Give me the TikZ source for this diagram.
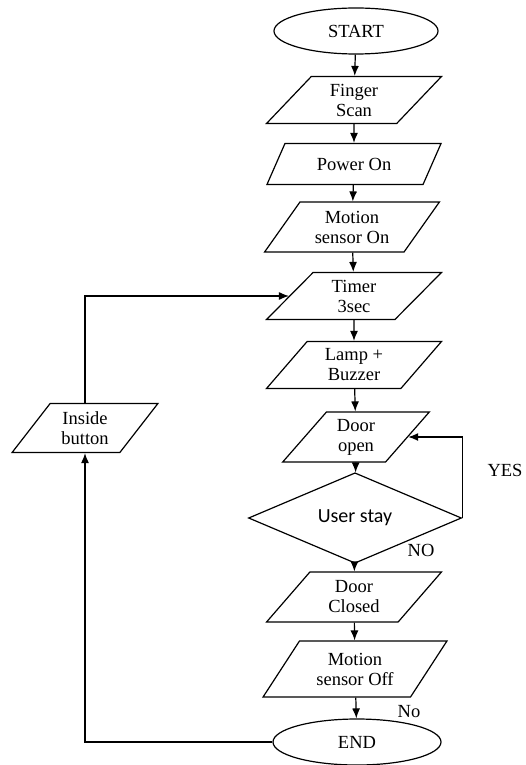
\documentclass[tikz,border=0pt]{standalone}
\usepackage{fontspec}
\setmainfont{Liberation Serif}
\newfontfamily\calibrifont{Carlito}
\usetikzlibrary{shapes.geometric}
\usetikzlibrary{arrows.meta}
\tikzset{iostyle/.style={trapezium,trapezium left angle=52,trapezium right angle=128,trapezium stretches=true,draw,line width=1.2pt,minimum width=175pt,minimum height=47pt,align=center,inner sep=0pt}}
\tikzset{termstyle/.style={ellipse,draw,line width=1.2pt,minimum width=164pt,minimum height=46pt,inner sep=0pt}}
\tikzset{decstyle/.style={diamond,draw,line width=1.2pt,minimum width=213pt,minimum height=73pt,inner sep=0pt}}
\tikzset{flowline/.style={line width=1.2pt,-{Latex[length=10pt,width=8pt]}}}

\begin{document}
\begin{tikzpicture}[x=1pt,y=-1pt,font=\fontsize{18.5}{20}\selectfont]
        \useasboundingbox (0,0) rectangle (525,765);

        \node[termstyle] (start) at (356,31) {START};
        \node[iostyle] (finger) at (354,100) {Finger\\Scan};
        \node[iostyle,minimum height=41pt] (power) at (354,164) {Power On};
        \node[iostyle,minimum height=50pt] (motionon) at (352,227) {Motion\\sensor On};
        \node[iostyle] (timer) at (354,296) {Timer\\3sec};
        \node[iostyle] (lamp) at (354,365) {Lamp +\\Buzzer};
        \node[iostyle,minimum width=148pt,minimum height=50pt] (dooropen) at (356,437) {Door\\open};
        \node[decstyle,font=\fontsize{20}{22}\calibrifont] (userstay) at (355,518) {User stay};
        \node[iostyle,minimum height=50pt] (doorclosed) at (354,597) {Door\\Closed};
        \node[iostyle,minimum width=184pt,minimum height=56pt] (motionoff) at (355,669) {Motion\\sensor Off};
        \node[termstyle,minimum width=168pt] (stop) at (357,742) {END};
        \node[iostyle,minimum width=146pt,minimum height=49pt] (inside) at (85,428) {Inside\\button};

        % Labels
        \node (yeslabel) at (505,470) {YES};
        \node (nolabel) at (421,550) {NO};
        \node (nolower) at (409,712) {No};

        % Main chain
        \foreach \a/\b in {start/finger,finger/power,power/motionon,motionon/timer,timer/lamp,lamp/dooropen,dooropen/userstay,userstay/doorclosed,doorclosed/motionoff,motionoff/stop}
        {
            \draw[flowline] (\a) -- (\b);
        }

        % Loops
        \draw[flowline] (userstay.east) |- (dooropen.east);
        \draw[flowline] (stop.west) -| (inside.south);
        \draw[flowline] (inside.north) |- (timer.west);
    \end{tikzpicture}
\end{document}
